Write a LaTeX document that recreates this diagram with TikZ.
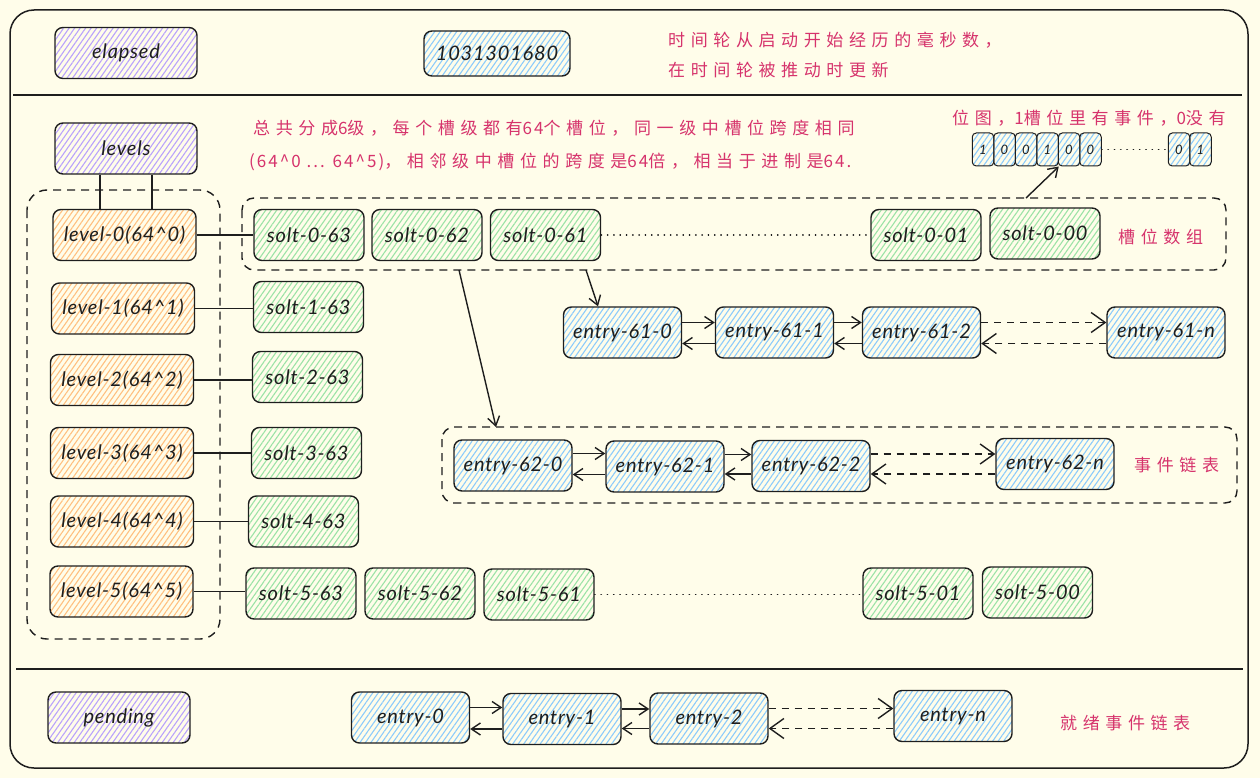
\documentclass[tikz,border=0pt]{standalone}
\usepackage{fontspec}
\setmainfont{Lato}
\newfontfamily\lab[LetterSpace=4]{Lato}
\newfontfamily\cjk[LetterSpace=33]{Noto Sans CJK SC}
\newfontfamily\cjklat[LetterSpace=12]{Noto Sans CJK SC}
\usetikzlibrary{arrows.meta,patterns.meta}
\definecolor{bg}{HTML}{FFFDEA}
\definecolor{ink}{HTML}{1E1E1E}
\definecolor{notec}{HTML}{D6336C}
\definecolor{purpleH}{HTML}{B9A2FC}
\definecolor{blueH}{HTML}{8CCBFB}
\definecolor{greenH}{HTML}{9BE3A6}
\definecolor{orangeH}{HTML}{FFC080}
\newcommand{\lt}[1]{{\cjklat #1}}
\begin{document}
\begin{tikzpicture}[x=1pt,y=-1pt,
  box/.style={draw=ink, line width=1.4pt, rounded corners=8pt, text=ink,
    font=\lab\fontsize{20}{22}\selectfont\itshape, inner sep=0pt},
  hatch/.style={pattern={Lines[angle=55,distance=4.5pt,line width=1.1pt]}, pattern color=#1},
  purplebox/.style={box, hatch=purpleH, minimum width=142pt, minimum height=51pt},
  valbox/.style={box, hatch=blueH, minimum width=146pt, minimum height=45pt},
  levelbox/.style={box, hatch=orangeH, minimum width=143pt, minimum height=51pt},
  slotbox/.style={box, hatch=greenH, minimum width=110pt, minimum height=51pt},
  entrybox/.style={box, hatch=blueH, minimum width=118pt, minimum height=51pt},
  bitbox/.style={draw=ink, line width=1pt, rounded corners=4pt, hatch=blueH,
    minimum width=21.5pt, minimum height=33pt, inner sep=0pt, text=ink,
    font=\lab\fontsize{13}{14}\selectfont\itshape},
  note/.style={text=notec, font=\cjk\fontsize{17}{20}\selectfont, anchor=west, inner sep=0pt},
  grp/.style={draw=ink, line width=1.4pt, dash pattern=on 8pt off 6pt},
  sep/.style={draw=ink, line width=1.8pt},
  link/.style={draw=ink, line width=1.4pt},
  arr/.style={link, -{Straight Barb[length=9pt,width=12pt]}},
  darr/.style={link, dash pattern=on 7pt off 6pt, -{Straight Barb[length=14pt,width=20pt]}},
  dots/.style={draw=ink, line width=1.5pt, dash pattern=on 0.3pt off 6pt, line cap=round}
]
\fill[bg] (0,0) rectangle (1260,778);
\useasboundingbox (0,0) rectangle (1260,778);
\draw[ink, line width=1.5pt, rounded corners=24pt] (10,10) rectangle (1248,768);
\draw[sep] (13,95) -- (1242,95);
\draw[sep] (16,669) -- (1243,669);

% top section
\node[purplebox] (elapsed) at (126,53) {elapsed};
\node[valbox] (val) at (497,53.5) {1031301680};
\node[note] (n1) at (668,40) {时间轮从启动开始经历的毫秒数，};
\node[note] (n2) at (668,70) {在时间轮被推动时更新};

% levels
\node[purplebox] (levels) at (126,148.5) {levels};
\node[note] (n3) at (253,128) {总共分成\lt{6}级，每个槽级都有\lt{64}个槽位，同一级中槽位跨度相同};
\node[note] (n4) at (249,162) {\lt{(64\textasciicircum0 ... 64\textasciicircum5)}，相邻级中槽位的跨度是\lt{64}倍，相当于进制是\lt{64.}};
\node[note] (n5) at (952,118) {位图，\lt{1}槽位里有事件，\lt{0}没有};

\node[levelbox] (l0) at (124.5,235) {level-0(64\textasciicircum0)};
\node[levelbox] (l1) at (123,308.5) {level-1(64\textasciicircum1)};
\node[levelbox] (l2) at (122,380) {level-2(64\textasciicircum2)};
\node[levelbox] (l3) at (122,453) {level-3(64\textasciicircum3)};
\node[levelbox] (l4) at (122,521.5) {level-4(64\textasciicircum4)};
\node[levelbox] (l5) at (121.5,591.5) {level-5(64\textasciicircum5)};

\node[slotbox] (s063) at (309,235) {solt-0-63};
\node[slotbox] (s062) at (427,235) {solt-0-62};
\node[slotbox] (s061) at (545.5,235) {solt-0-61};
\node[slotbox] (s001) at (926,235) {solt-0-01};
\node[slotbox] (s000) at (1045,233.5) {solt-0-00};
\node[slotbox] (s163) at (308.5,307) {solt-1-63};
\node[slotbox] (s263) at (307.5,377) {solt-2-63};
\node[slotbox] (s363) at (306.5,453) {solt-3-63};
\node[slotbox] (s463) at (303.5,521.5) {solt-4-63};
\node[slotbox] (s563) at (301,593.5) {solt-5-63};
\node[slotbox] (s562) at (420,593.5) {solt-5-62};
\node[slotbox] (s561) at (539,594.5) {solt-5-61};
\node[slotbox] (s501) at (918,593.5) {solt-5-01};
\node[slotbox] (s500) at (1037.5,592.5) {solt-5-00};
\node[note] (lab1) at (1118,237) {槽位数组};

% bitmap
\node[bitbox] (b1) at (983,149.5) {1};
\node[bitbox] (b2) at (1004.5,149.5) {0};
\node[bitbox] (b3) at (1026,149.5) {0};
\node[bitbox] (b4) at (1047.5,149.5) {1};
\node[bitbox] (b5) at (1069,149.5) {0};
\node[bitbox] (b6) at (1090.5,149.5) {0};
\node[bitbox] (b7) at (1179,149.5) {0};
\node[bitbox] (b8) at (1200.5,149.5) {1};

% entries 61
\node[entrybox] (e610) at (622.5,332.5) {entry-61-0};
\node[entrybox] (e611) at (774.5,332.5) {entry-61-1};
\node[entrybox] (e612) at (921.5,332.5) {entry-61-2};
\node[entrybox] (e61n) at (1166,332.5) {entry-61-n};

% entries 62
\node[entrybox] (e620) at (513,465.5) {entry-62-0};
\node[entrybox] (e621) at (665,466.5) {entry-62-1};
\node[entrybox] (e622) at (811,466) {entry-62-2};
\node[entrybox] (e62n) at (1055,464) {entry-62-n};
\node[note] (lab2) at (1134,465) {事件链表};

% pending
\node[purplebox] (pend) at (119,717.5) {pending};
\node[entrybox] (en0) at (410.5,717.5) {entry-0};
\node[entrybox] (en1) at (562,719) {entry-1};
\node[entrybox] (en2) at (709,718.5) {entry-2};
\node[entrybox] (enn) at (953,716) {entry-n};
\node[note] (lab3) at (1060,723) {就绪事件链表};

% group boxes
\draw[grp, rounded corners=20pt] (27,190) rectangle (220,639);
\draw[grp, rounded corners=12pt] (242,198) rectangle (1226,270);
\draw[grp, rounded corners=12pt] (442,427) rectangle (1237,503);
\coordinate (g1) at (459,270);
\coordinate (g2) at (586,270);
\coordinate (g3) at (1026,198);
\coordinate (t1) at (496,427);

% connectors
\draw[link] ([xshift=-26pt]levels.south) -- ([xshift=-24.5pt]l0.north);
\draw[link] ([xshift=26pt]levels.south) -- ([xshift=27.5pt]l0.north);
\draw[link] (l0.east) -- (l0.east -| s063.west);
\draw[link] (l1.east) -- (l1.east -| s163.west);
\draw[link] (l2.east) -- (l2.east -| s263.west);
\draw[link] (l3.east) -- (l3.east -| s363.west);
\draw[link] (l4.east) -- (l4.east -| s463.west);
\draw[link] (l5.east) -- (l5.east -| s563.west);
\draw[dots] (s061.east) -- (s061.east -| s001.west);
\draw[dots] (s561.east) -- (s561.east -| s501.west);
\draw[dots] (b6.east) -- (b7.west);

\draw[arr] (g3) -- (b4.south east);
\draw[arr] (g2) -- ([xshift=-24.5pt]e610.north);
\draw[arr] (g1) -- (t1);

\draw[arr] ([yshift=10pt]e610.east) -- ([yshift=10pt]e611.west);
\draw[arr] ([yshift=-11pt]e611.west) -- ([yshift=-11pt]e610.east);
\draw[arr] ([yshift=10pt]e611.east) -- ([yshift=10pt]e612.west);
\draw[arr] ([yshift=-11pt]e612.west) -- ([yshift=-11pt]e611.east);
\draw[darr] ([yshift=10pt]e612.east) -- ([yshift=10pt]e61n.west);
\draw[darr] ([yshift=-11pt]e61n.west) -- ([yshift=-11pt]e612.east);

\draw[arr] ([yshift=12pt]e620.east) -- ([yshift=12pt]e620.east -| e621.west);
\draw[arr] ([yshift=-8pt]e621.west) -- ([yshift=-8pt]e621.west -| e620.east);
\draw[arr] ([yshift=12pt]e621.east) -- ([yshift=12pt]e621.east -| e622.west);
\draw[arr] ([yshift=-8pt]e622.west) -- ([yshift=-8pt]e622.west -| e621.east);
\draw[darr] ([yshift=12pt]e622.east) -- ([yshift=12pt]e622.east -| e62n.west);
\draw[darr] ([yshift=-8pt]e622.east -| e62n.west) -- ([yshift=-8pt]e622.east);

\draw[arr] ([yshift=10pt]en0.east) -- ([yshift=10pt]en0.east -| en1.west);
\draw[arr] ([yshift=-10pt]en1.west) -- ([yshift=-10pt]en1.west -| en0.east);
\draw[arr] ([yshift=10pt]en1.east) -- ([yshift=10pt]en1.east -| en2.west);
\draw[arr] ([yshift=-10pt]en2.west) -- ([yshift=-10pt]en2.west -| en1.east);
\draw[darr] ([yshift=10pt]en2.east) -- ([yshift=10pt]en2.east -| enn.west);
\draw[darr] ([yshift=-10pt]en2.east -| enn.west) -- ([yshift=-10pt]en2.east);
\end{tikzpicture}
\end{document}
